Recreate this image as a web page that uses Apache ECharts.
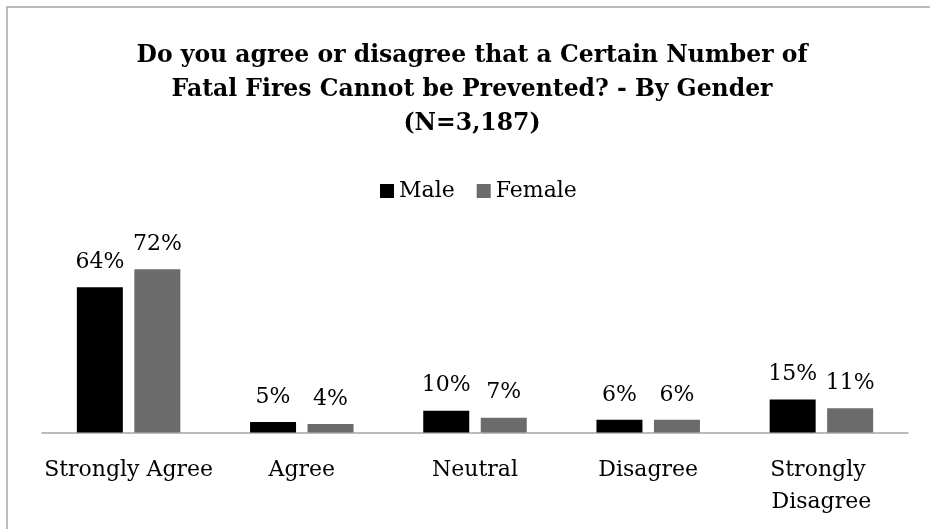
<!DOCTYPE html>
<html>
<head>
<meta charset="utf-8">
<script src="https://cdn.jsdelivr.net/npm/echarts@6/dist/echarts.min.js"></script>
<style>
html,body{margin:0;padding:0;background:#fff;}
#chart{width:930px;height:529px;}
</style>
</head>
<body>
<div id="chart"></div>
<script>
const categories = ['Strongly Agree', 'Agree', 'Neutral', 'Disagree', 'Strongly Disagree'];
const seriesNames = ['Male', 'Female'];
const maleValues = [64.0, 4.6, 9.6, 5.6, 14.6];
const femaleValues = [72.0, 3.8, 6.5, 5.6, 10.7];
const titleText = 'Do you agree or disagree that a Certain Number of\nFatal Fires Cannot be Prevented? - By Gender\n(N=3,187)';

const FONT = 'DejaVu Serif';
const chart = echarts.init(document.getElementById('chart'), null, {renderer: 'canvas'});

const labelCfg = {
  show: true,
  position: 'top',
  distance: 14,
  color: '#000',
  fontFamily: FONT,
  fontSize: 22,
  formatter: p => Math.round(p.value) + '%'
};

chart.setOption({
  animation: false,
  backgroundColor: '#fff',
  graphic: [{
    type: 'rect',
    shape: {x: 7, y: 7, width: 1000, height: 560},
    style: {fill: 'none', stroke: '#a6a6a6', lineWidth: 1.5},
    silent: true,
    z: -10
  }],
  title: {
    text: titleText,
    left: 472,
    top: 39,
    textAlign: 'center',
    padding: 0,
    textStyle: {
      fontFamily: FONT,
      fontWeight: 'bold',
      fontSize: 23.5,
      lineHeight: 34,
      color: '#000'
    }
  },
  legend: {
    data: seriesNames,
    top: 180,
    left: 380,
    padding: 0,
    icon: 'rect',
    itemWidth: 14,
    itemHeight: 14,
    itemGap: 22,
    textStyle: {fontFamily: FONT, fontSize: 22, color: '#000'}
  },
  grid: {left: 42, right: 22, top: 251, bottom: 96.5, containLabel: false},
  xAxis: {
    type: 'category',
    data: categories,
    axisLine: {lineStyle: {color: '#a6a6a6', width: 1.5}},
    axisTick: {show: false},
    axisLabel: {
      interval: 0,
      margin: 22,
      color: '#000',
      fontFamily: FONT,
      fontSize: 22,
      lineHeight: 32,
      width: 175,
      overflow: 'break'
    }
  },
  yAxis: {
    type: 'value',
    min: 0,
    max: 80,
    show: false,
    splitLine: {show: false}
  },
  series: [
    {name: seriesNames[0], type: 'bar', data: maleValues, barWidth: 46, barGap: '25%',
     itemStyle: {color: '#000000'}, label: labelCfg},
    {name: seriesNames[1], type: 'bar', data: femaleValues, barWidth: 46, barGap: '25%',
     itemStyle: {color: '#6b6b6b'}, label: labelCfg}
  ]
});
</script>
</body>
</html>
